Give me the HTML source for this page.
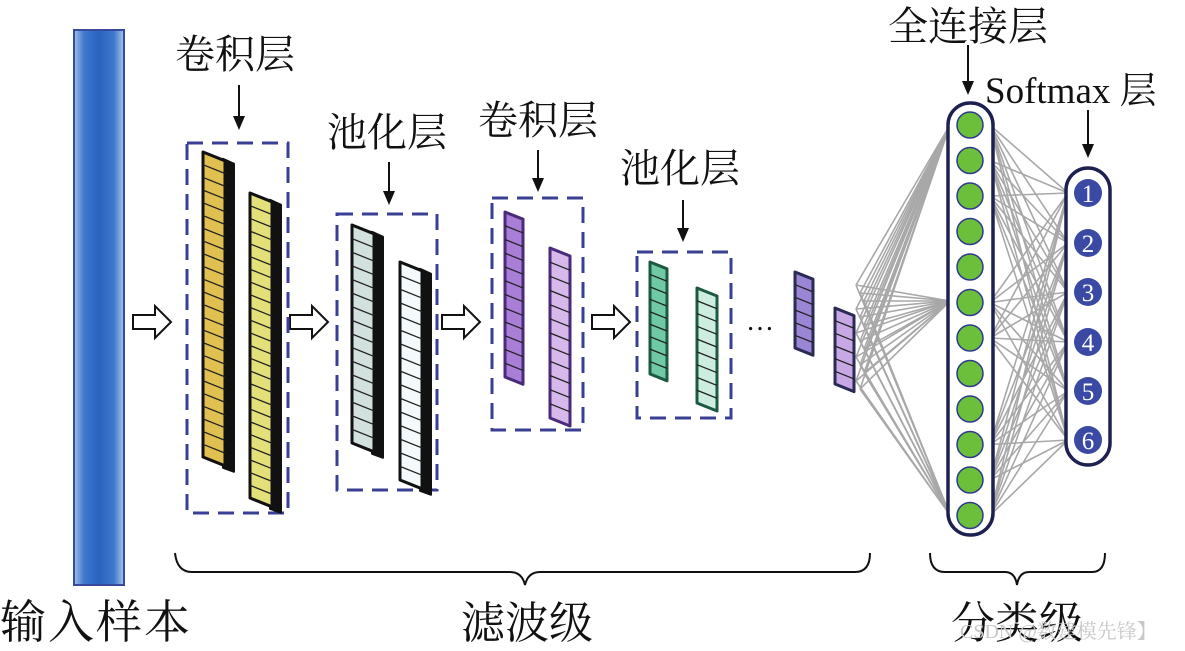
<!DOCTYPE html>
<html><head><meta charset="utf-8">
<style>
html,body{margin:0;padding:0;background:#fff;width:1185px;height:651px;overflow:hidden}
svg{display:block}
text{font-family:"Liberation Serif","Noto Serif CJK SC","Noto Sans CJK SC",serif;fill:#111}
</style></head>
<body>
<svg id="s" width="1185" height="651" viewBox="0 0 1185 651" xmlns="http://www.w3.org/2000/svg">
<defs>
<linearGradient id="blue" x1="0" x2="1">
<stop offset="0" stop-color="#9fc0ea"/><stop offset="0.2" stop-color="#3f78cc"/><stop offset="0.5" stop-color="#2a62c0"/><stop offset="0.8" stop-color="#3f78cc"/><stop offset="1" stop-color="#a9c6ec"/>
</linearGradient>
</defs>
<rect x="74" y="30" width="50" height="555" fill="url(#blue)" stroke="#3a4a9a" stroke-width="2"/>
<g id="g"></g>
<text x="235" y="68" font-size="40" text-anchor="middle">卷积层</text>
<text x="387" y="146" font-size="40" text-anchor="middle">池化层</text>
<text x="538" y="134" font-size="40" text-anchor="middle">卷积层</text>
<text x="680" y="182" font-size="40" text-anchor="middle">池化层</text>
<text x="968" y="40" font-size="40" text-anchor="middle">全连接层</text>
<text x="985" y="103" font-size="37">Softmax 层</text>
<text x="0" y="638" font-size="46" textLength="190">输入样本</text>
<text x="527" y="638" font-size="44" text-anchor="middle">滤波级</text>
<text x="1017" y="638" font-size="44" text-anchor="middle">分类级</text>
<text x="960" y="638" font-size="20" style="fill:#c8c8c8">CSDN @数建模先锋】</text>
<path d="M175,553 Q177,572 192,572 L510,572 Q522,572 525,585 Q528,572 540,572 L855,572 Q870,572 870,553" fill="none" stroke="#111" stroke-width="2"/>
<path d="M930,553 Q930,572 945,572 L1005,572 Q1015,572 1017,585 Q1019,572 1029,572 L1092,572 Q1105,572 1105,553" fill="none" stroke="#111" stroke-width="2"/>
</svg>
<script>
const g=document.getElementById('g');let h='';
function arrowH(x,y){h+=`<path d="M${x},${y-7} L${x+22},${y-7} L${x+22},${y-16} L${x+38},${y} L${x+22},${y+16} L${x+22},${y+7} L${x},${y+7}z" fill="#fff" stroke="#111" stroke-width="2"/>`;}
[133,290,442,592].forEach(x=>arrowH(x,322));
function dbox(x,y,w,hh){h+=`<rect x="${x}" y="${y}" width="${w}" height="${hh}" fill="none" stroke="#3a3f96" stroke-width="3" stroke-dasharray="16,9"/>`;}
dbox(187,143,101,370);dbox(337,214,100,276);dbox(492,198,91,232);dbox(637,252,94,166);
function bar(x,y,w,hh,fill,dark,n,side){
 const sk=w*0.4;
 if(side) h+=`<path d="M${x+w-2},${y+sk-2} L${x+w+9},${y+sk+3} L${x+w+9},${y+hh+sk+6} L${x+w-2},${y+hh+sk+2}z" fill="#111" stroke="#111" stroke-width="2" stroke-linejoin="round"/>`;
 h+=`<path d="M${x},${y} L${x+w},${y+sk} L${x+w},${y+hh+sk} L${x},${y+hh}z" fill="${fill}" stroke="${dark}" stroke-width="3" stroke-linejoin="round"/>`;
 for(let i=1;i<n;i++){const yy=y+hh*i/n;h+=`<line x1="${x}" y1="${yy}" x2="${x+w}" y2="${yy+sk}" stroke="#222" stroke-width="1.3"/>`;}
}
bar(203,152,22,305,'#e0c050','#111',24,1);
bar(250,193,22,305,'#e3e07a','#111',24,1);
bar(352,225,22,218,'#d2e0de','#111',16,1);
bar(400,262,22,218,'#f4fafb','#111',16,1);
bar(505,212,18,165,'#a97ed6','#4a2a7a',12,0);
bar(550,248,20,170,'#d7b8ea','#4a2a7a',12,0);
bar(650,262,17,112,'#6fc9a3','#1d5a44',9,0);
bar(697,288,20,115,'#cdeedf','#1d5a44',9,0);
bar(795,272,18,76,'#9b86d6','#2a2a55',6,0);
bar(835,308,19,76,'#c8a8e4','#2a2a55',6,0);
h+=`<text x="746" y="330" font-size="28" style="font-family:Liberation Serif">…</text>`;
const fc=[];for(let i=0;i<12;i++)fc.push(125+i*35.5);
const sm=[193,243,292,342,391,440];
let L='';
for(let k=0;k<14;k++){const sy=285+k*8;[125,301,515].forEach(t=>{L+=`<line x1="${856+(k%3)*4}" y1="${sy}" x2="950" y2="${t}"/>`;});}
[0,1,2,5,6,9,10,11].forEach(i=>sm.forEach(t=>{L+=`<line x1="990" y1="${fc[i]}" x2="1068" y2="${t}"/>`;}));
h+=`<g stroke="#a8a8a8" stroke-width="1.6">${L}</g>`;
h+=`<rect x="948" y="103" width="45" height="432" rx="22" fill="#fff" stroke="#1e2050" stroke-width="3.5"/>`;
fc.forEach(y=>{h+=`<circle cx="970" cy="${y}" r="13" fill="#6cbf3a" stroke="#2e3a8c" stroke-width="1.5"/>`;});
h+=`<rect x="1066" y="168" width="44" height="297" rx="22" fill="#fff" stroke="#1e2050" stroke-width="3.5"/>`;
sm.forEach((y,i)=>{h+=`<circle cx="1088" cy="${y}" r="14" fill="#3a49a3"/><text x="1088" y="${y+9}" font-size="25" text-anchor="middle" style="fill:#fff">${i+1}</text>`;});
function dn(x,y1,y2){h+=`<line x1="${x}" y1="${y1}" x2="${x}" y2="${y2-12}" stroke="#111" stroke-width="2"/><path d="M${x-6},${y2-14} L${x+6},${y2-14} L${x},${y2}z" fill="#111"/>`;}
dn(239,85,130);dn(389,162,205);dn(538,150,192);dn(683,200,242);dn(968,45,95);dn(1088,110,158);
g.innerHTML=h;
</script>
</body></html>
